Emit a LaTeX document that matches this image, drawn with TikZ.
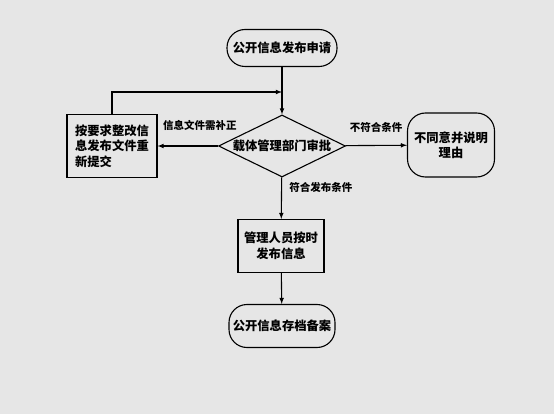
\documentclass[tikz,border=0pt]{standalone}
\usepackage{fontspec}
\newfontfamily\cjk{Noto Sans CJK SC}
\usetikzlibrary{shapes.geometric}
\definecolor{bggray}{RGB}{230,230,230}
\begin{document}
\begin{tikzpicture}[>=latex, x=1pt, y=-1pt, line width=1.1pt,
  font=\cjk\bfseries\fontsize{12.3}{15.5}\selectfont,
  term/.style={draw, rectangle, rounded corners=18pt, inner sep=2pt},
  box/.style={draw, rectangle, inner sep=2pt},
  decide/.style={draw, diamond, aspect=2, inner sep=0pt, minimum width=127pt, minimum height=62pt},
  lbl/.style={font=\cjk\bfseries\fontsize{10.5}{12}\selectfont}]
\useasboundingbox (0,0) rectangle (554,414);
\fill [bggray] (0,0) rectangle (554,414);

\node[term, minimum width=110pt, minimum height=37pt] (start) at (282,48) {公开信息发布申请};
\node[decide] (approve) at (282,146) {载体管理部门审批};
\node[box, align=left, minimum width=90pt, minimum height=63pt] (revise) at (112,146) {按要求整改信\\息发布文件重\\新提交};
\node[term, align=center, minimum width=87pt, minimum height=64pt] (reject) at (451,145) {不同意并说明\\理由};
\node[box, align=center, minimum width=86pt, minimum height=53pt] (publish) at (281,246) {管理人员按时\\发布信息};
\node[term, minimum width=106pt, minimum height=43pt] (archive) at (282,326) {公开信息存档备案};
\coordinate (join) at (282,92);

\draw[->] (start) -- (approve);
\draw[->] (approve) -- node[lbl, pos=.25, right=4pt]{符合发布条件} (publish);
\draw[->] (approve) -- node[lbl, above=9pt]{不符合条件} (reject);
\draw[->] (approve) -- node[lbl, pos=.3, above=12pt]{信息文件需补正} (revise);
\draw[->] (publish) -- (archive);
\draw[->] (revise.north) |- (join);
\end{tikzpicture}
\end{document}
